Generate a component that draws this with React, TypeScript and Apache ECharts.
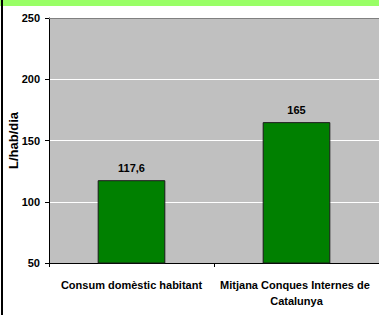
import React, { useEffect, useRef } from "react";
import * as echarts from "echarts";

const categories = ["Consum domèstic habitant", "Mitjana Conques Internes de Catalunya"];
const values = [117.6, 165];
const yTicks = { min: 50, max: 250, interval: 50 };
const yName = "L/hab/dia";

export default function App() {
  const ref = useRef<HTMLDivElement>(null);
  useEffect(() => {
    if (!ref.current) return;
    const chart = echarts.init(ref.current, undefined, { renderer: "svg" });
    const font = "'Liberation Sans', Arial, sans-serif";
    chart.setOption({
      animation: false,
      backgroundColor: "#ffffff",
      textStyle: { fontFamily: font },
      grid: {
        left: 49,
        right: 0,
        top: 18,
        bottom: 52,
        show: true,
        backgroundColor: "#c0c0c0",
        borderWidth: 0,
        containLabel: false,
        outerBoundsMode: "none",
      },
      graphic: [
        { type: "rect", left: 0, top: 0, shape: { width: 379, height: 6 }, style: { fill: "#99ff66" }, z: 10 },
        { type: "rect", left: 1, top: 0, shape: { width: 2, height: 315 }, style: { fill: "#000000" }, z: 11 },
        { type: "line", shape: { x1: 49, y1: 18.5, x2: 379, y2: 18.5 }, style: { stroke: "#808080", lineWidth: 1 }, z: 10 },
      ],
      xAxis: {
        type: "category",
        data: categories,
        axisLine: { lineStyle: { color: "#000", width: 1 } },
        axisTick: { show: true, length: 4, lineStyle: { color: "#000" } },
        axisLabel: {
          interval: 0,
          color: "#000",
          fontWeight: "bold",
          fontSize: 11,
          fontFamily: font,
          margin: 14,
          lineHeight: 16,
          width: 155,
          overflow: "break",
        },
      },
      yAxis: {
        type: "value",
        min: yTicks.min,
        max: yTicks.max,
        interval: yTicks.interval,
        name: yName,
        nameLocation: "middle",
        nameRotate: 90,
        nameGap: 29,
        nameMoveOverlap: false,
        nameTextStyle: { color: "#000", fontWeight: "bold", fontSize: 13, fontFamily: font },
        axisLine: { show: true, lineStyle: { color: "#000", width: 1 } },
        axisTick: { show: true, length: 4, lineStyle: { color: "#000" } },
        axisLabel: { color: "#000", fontWeight: "bold", fontSize: 11, fontFamily: font, margin: 9 },
        splitLine: { show: true, lineStyle: { color: "#ffffff", width: 1 } },
      },
      series: [
        {
          type: "bar",
          data: values,
          barWidth: "41%",
          itemStyle: { color: "#008000", borderColor: "#1a1a1a", borderWidth: 1 },
          label: {
            show: true,
            position: "top",
            distance: 7,
            color: "#000",
            fontWeight: "bold",
            fontSize: 11,
            fontFamily: font,
            formatter: (p: any) => String(p.value).replace(".", ","),
          },
        },
      ],
    });
    return () => chart.dispose();
  }, []);
  return <div ref={ref} style={{ width: 379, height: 315, position: "absolute", left: 0, top: 0 }} />;
}
